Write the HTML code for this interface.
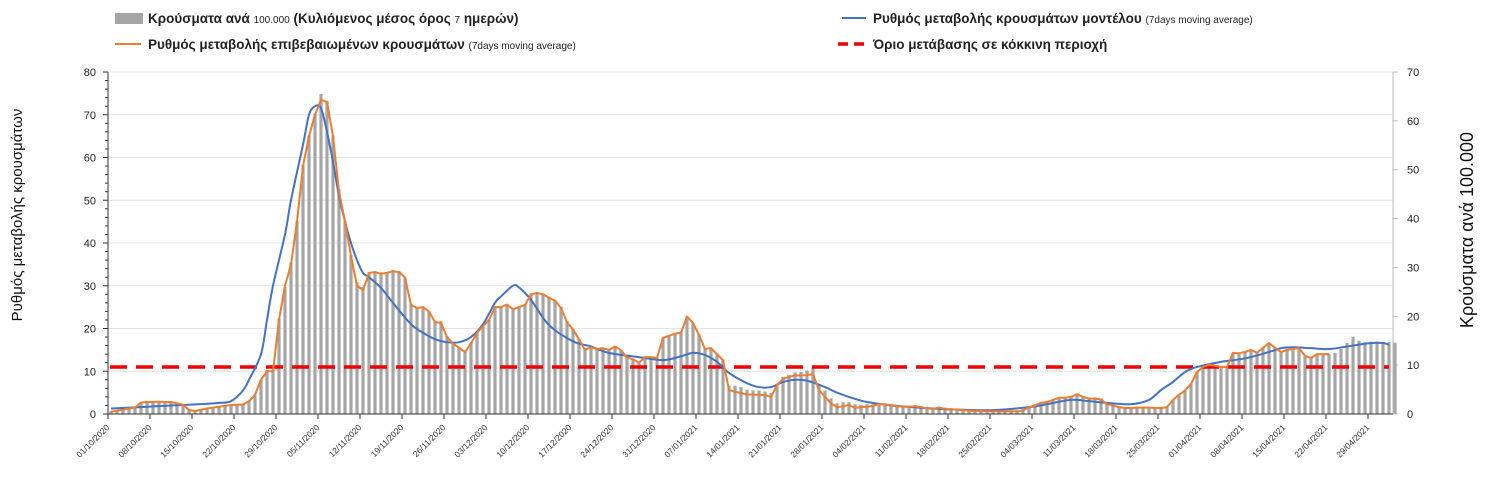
<!DOCTYPE html>
<html><head><meta charset="utf-8"><style>
body{margin:0;background:#fff;font-family:"Liberation Sans","DejaVu Sans",sans-serif;}
svg{display:block}
</style></head><body>
<svg id="c" width="1493" height="497" xmlns="http://www.w3.org/2000/svg">
<g id="legend" font-family="Liberation Sans, DejaVu Sans, sans-serif" font-weight="bold" fill="#222">
 <rect x="115" y="13" width="28" height="11" fill="#a6a6a6"/>
 <text x="148" y="23" font-size="13.5">Κρούσματα ανά <tspan font-size="10" font-weight="normal">100.000</tspan> (Κυλιόμενος μέσος όρος <tspan font-size="10" font-weight="normal">7</tspan> ημερών)</text>
 <line x1="842" y1="18" x2="866" y2="18" stroke="#4472c4" stroke-width="2"/>
 <text x="873" y="23" font-size="13.5">Ρυθμός μεταβολής κρουσμάτων μοντέλου <tspan font-size="10" font-weight="normal">(7days moving average)</tspan></text>
 <line x1="115" y1="44" x2="141" y2="44" stroke="#ed7d31" stroke-width="2"/>
 <text x="148" y="49" font-size="13.5">Ρυθμός μεταβολής επιβεβαιωμένων κρουσμάτων <tspan font-size="10" font-weight="normal">(7days moving average)</tspan></text>
 <line x1="838" y1="44" x2="866" y2="44" stroke="#e00" stroke-width="3.5" stroke-dasharray="10,6"/>
 <text x="873" y="49" font-size="13.5">Όριο μετάβασης σε κόκκινη περιοχή</text>
</g>
<text transform="translate(22,215) rotate(-90)" text-anchor="middle" font-size="15" fill="#111">Ρυθμός μεταβολής κρουσμάτων</text>
<text transform="translate(1473,230) rotate(-90)" text-anchor="middle" font-size="18" fill="#111">Κρούσματα ανά 100.000</text>
<g id="plot"></g>
</svg>
<script>
const leftTicks=[0,10,20,30,40,50,60,70,80];
const rightTicks=[0,10,20,30,40,50,60,70];
const startDate=[2020,9,1];
const threshold=11;
const confirmed=[0.5,0.8,1.0,1.3,1.5,2.7,2.8,2.8,2.9,2.8,2.8,2.5,2.2,0.9,0.7,1.0,1.3,1.5,1.7,1.9,2.1,2.2,2.2,3.0,4.5,8,10,10,22,30,35,45,58,65,70,73.5,73,65,52,45,37,30,29,33,33.2,32.8,33,33.4,33.2,32,25.5,24.8,25,24,21.5,21.3,18,16.5,15.5,14.5,16.5,19,20.5,22,25,25,25.6,24.5,25,25.5,28,28.3,28,27.2,26.5,24.8,21.5,19.8,17.5,15,15.6,15.2,15.4,15,15.8,14.9,13.2,12.8,12,13.3,13.3,13.1,17.8,18.3,18.8,19,22.8,21.3,18.5,15.2,15.4,14,12.6,5.6,5.2,4.9,4.6,4.5,4.5,4.4,4.0,6.8,8.2,8.7,9.0,9.0,9.1,9.3,5.6,4.0,2.5,1.6,1.8,2.1,1.4,1.6,1.7,1.9,2.3,2.2,2.0,1.8,1.7,1.7,1.8,1.6,1.3,1.2,1.5,1.2,1.1,1.0,0.9,0.8,0.7,0.7,0.6,0.6,0.6,0.6,0.6,0.6,0.8,1.6,2.0,2.6,2.8,3.3,3.8,3.8,4.0,4.6,4.0,3.6,3.6,3.4,2.3,2.0,1.6,1.4,1.4,1.5,1.5,1.5,1.4,1.4,1.6,3.3,4.5,5.5,7,9.8,11,11.5,11.3,11,11,14.3,14.2,14.5,15,14.3,15.5,16.6,15.5,14.5,15,15.2,15.4,13.6,13.1,14,14,14];
const cases=[0.6,0.8,1.0,1.2,1.4,2.4,2.5,2.5,2.6,2.5,2.5,2.3,2.0,1.0,0.8,1.0,1.2,1.4,1.6,1.7,1.9,2.0,2.0,2.7,4.0,7,9,9,19.5,26,31,39.5,51,57,61.5,65.5,64,57,46,39.5,32.5,27,26,29,29.2,29,29,29.5,29.2,28,22.5,22,22,21,19,19,16,14.5,13.6,12.8,14.5,16.8,18,19.3,22,22,22.5,21.5,22,22.5,24.6,25,24.6,24,23.3,22,19,17.4,15.4,13.5,13.8,13.4,13.5,13.2,13.9,13.1,11.8,11.3,10.8,11.8,11.7,11.6,15.6,16,16.5,16.7,20,18.7,16.3,13.5,13.6,12.4,11.2,5.8,5.8,5.5,5.0,4.8,4.8,4.6,4.3,6.2,7.6,8.0,8.5,8.6,8.9,9.4,6,4.8,3.2,2.2,2.4,2.4,2.0,1.9,2.0,2.0,2.3,2.2,2.0,1.8,1.7,1.7,1.8,1.6,1.4,1.3,1.5,1.3,1.2,1.1,1.0,1.0,0.9,0.9,0.8,0.8,0.8,0.8,0.8,0.8,1.0,1.6,2.0,2.5,2.7,3.0,3.5,3.5,3.7,4.2,3.7,3.4,3.4,3.2,2.3,2.0,1.6,1.4,1.4,1.5,1.5,1.5,1.4,1.4,1.6,3.0,4.0,4.9,6.2,8.6,9.7,10.1,10,9.7,9.7,12.5,12.4,12.7,13.1,12.5,13.6,14.5,13.6,12.7,13.1,13.3,13.5,12,11.5,12.3,12.3,12.3,12.5,13.3,14.5,15.8,15,14.7,14.8,14.8,14.7,14.7,14.6];
const modelDays=[0,5,10,15,18,20,22,23,25,26,27,29,30,32,33,34,35,36,37,38,39,40,41,42,43,45,47,50,52,54,56,58,60,62,64,65,67,68,70,73,77,80,83,88,92,95,97,99,101,103,106,108,110,112,114,116,119,121,123,126,131,138,142,147,153,156,160,163,166,170,173,175,177,179,181,185,189,193,195,197,200,203,206,210,212,213];
const model=[1.3,1.6,2.0,2.3,2.6,3,5.5,8,14,22,30,42,50,63,70,72,71.5,66,59,51,45,40,36,33,32,29.5,26,21,19,17.5,16.8,16.8,18,21,26,27.5,30,29.6,26.7,20.8,17,15.8,14.3,13.3,12.6,13.5,14.3,13.8,12.2,9.6,7.2,6.3,6.3,7.5,8,7.8,6.3,5,4,2.8,1.9,1.2,1.0,0.9,1.6,2.3,3.3,3.0,2.6,2.3,3.3,5.6,7.5,9.8,11,12.2,13,14.5,15.4,15.6,15.4,15.2,15.8,16.6,16.6,16.2];

const NS='http://www.w3.org/2000/svg';
const plot=document.getElementById('plot');
const X0=108,DAY=6,Y0=414,YT=72,RIGHT=1393;
const yL=v=>Y0-(v/80)*(Y0-YT);
const yR=v=>Y0-(v/70)*(Y0-YT);
const xd=i=>X0+3+DAY*i;
function mk(tag,attrs){const e=document.createElementNS(NS,tag);for(const k in attrs)e.setAttribute(k,attrs[k]);plot.appendChild(e);return e;}

leftTicks.forEach(v=>{
 const g=mk('line',{x1:X0,x2:RIGHT,y1:yL(v),y2:yL(v),stroke:'#e3e3e3','stroke-width':1});
 
 
 const t=mk('text',{x:X0-12,y:yL(v)+4,'text-anchor':'end','font-size':11,fill:'#222'});
 t.textContent=v;
 
 
});
for(let v=0;v<=80;v+=2){
 const m=mk('line',{x1:X0-(v%10?3:5),x2:X0,y1:yL(v),y2:yL(v),stroke:'#333','stroke-width':1});
 
 
}
rightTicks.forEach(v=>{
 const t=mk('text',{x:RIGHT+14,y:yR(v)+4,'font-size':11,fill:'#222'});
 t.textContent=v;
 
 
 const m=mk('line',{x1:RIGHT,x2:RIGHT+5,y1:yR(v),y2:yR(v),stroke:'#bbb'});
 
 
});

cases.forEach((v,i)=>{
 const b=mk('rect',{x:xd(i)-1.6,y:yR(v),width:3.2,height:Y0-yR(v),fill:'#a6a6a6'});
 
 
});

const al=mk('line',{x1:X0,x2:X0,y1:YT,y2:Y0,stroke:'#333'});


const ar=mk('line',{x1:RIGHT,x2:RIGHT,y1:YT,y2:Y0,stroke:'#bbb'});


const ab=mk('line',{x1:X0,x2:RIGHT,y1:Y0,y2:Y0,stroke:'#333'});



const sd=new Date(startDate[0],startDate[1],startDate[2]);
for(let d=0;X0+d*DAY<=RIGHT;d+=7){
 const x=X0+d*DAY;
 const tk=mk('line',{x1:x,x2:x,y1:Y0,y2:Y0+5,stroke:'#333'});
 
 
 const dt=new Date(sd.getTime()+d*86400000+3600000*12);
 const s=String(dt.getDate()).padStart(2,'0')+'/'+String(dt.getMonth()+1).padStart(2,'0')+'/'+dt.getFullYear();
 const t=mk('text',{x:x+2,y:Y0+14,'text-anchor':'end','font-size':8.5,fill:'#333',transform:`rotate(-45 ${x+2} ${Y0+14})`});
 t.textContent=s;
 
 
}

const th=mk('line',{x1:X0+2,x2:RIGHT-4,y1:yL(threshold),y2:yL(threshold),stroke:'#e00','stroke-width':3.5,'stroke-dasharray':'17,9'});



// smooth model curve (Catmull-Rom) through data points
const mpts=modelDays.map((d,i)=>[xd(d),yL(model[i])]);
let dstr=`M${mpts[0][0]},${mpts[0][1]}`;
for(let i=0;i<mpts.length-1;i++){
 const p0=mpts[Math.max(0,i-1)],p1=mpts[i],p2=mpts[i+1],p3=mpts[Math.min(mpts.length-1,i+2)];
 const c1=[p1[0]+(p2[0]-p0[0])/6,p1[1]+(p2[1]-p0[1])/6];
 const c2=[p2[0]-(p3[0]-p1[0])/6,p2[1]-(p3[1]-p1[1])/6];
 dstr+=` C${c1[0]},${c1[1]} ${c2[0]},${c2[1]} ${p2[0]},${p2[1]}`;
}
const ml=mk('path',{d:dstr,fill:'none',stroke:'#4472c4','stroke-width':2});



const cp=confirmed.map((v,i)=>`${xd(i)},${yL(v)}`).join(' ');
const cl=mk('polyline',{points:cp,fill:'none',stroke:'#ed7d31','stroke-width':2,'stroke-linejoin':'round'});


</script>
</body></html>
